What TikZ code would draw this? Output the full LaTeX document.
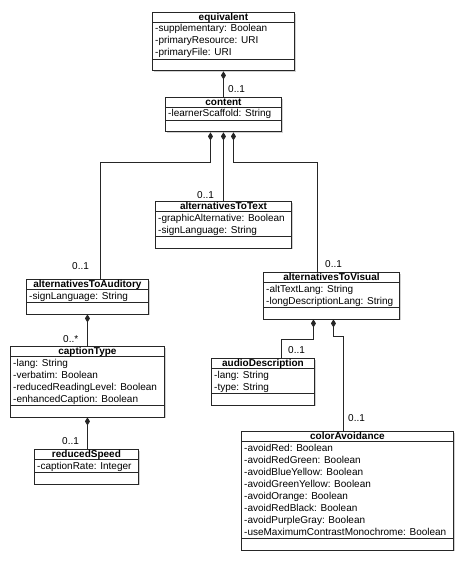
\documentclass[tikz,border=0pt]{standalone}
\usepackage{fontspec}
\setmainfont{Liberation Sans}
\usetikzlibrary{calc,shadows,arrows.meta}
\tikzset{
 classbox/.style={draw=black!85, line width=0.9pt, fill=white, inner sep=0pt, anchor=north west,
   drop shadow={shadow xshift=1.5pt, shadow yshift=-1.5pt, opacity=0.3, fill=black!60}},
 titletext/.style={font=\fontsize{10}{12}\selectfont\bfseries, inner sep=0pt, anchor=base},
 attrtext/.style={font=\fontsize{10}{12}\selectfont, inner sep=0pt, anchor=base west},
 sepline/.style={draw=black!85, line width=0.8pt},
 comp/.style={draw=black!85, line width=0.8pt, {Diamond[length=8pt,width=5pt]}-},
 mult/.style={font=\fontsize{10}{12}\selectfont, inner sep=0pt, anchor=base west},
}
\newcommand{\umlbox}[7]{%
 \pgfmathsetmacro{\attrh}{12*#5+1}%
 \pgfmathsetmacro{\boxh}{10.5+\attrh+11}%
 \node[classbox, minimum width=#4pt, minimum height=\boxh pt] (#1) at (#2,#3) {};
 \node[titletext] (#1-title) at ($(#1.north)+(0,8.5)$) {#6};
 \draw[sepline] ($(#1.north west)+(0,10.5)$) -- ($(#1.north east)+(0,10.5)$);
 \draw[sepline] ($(#1.north west)+(0,10.5+\attrh)$) -- ($(#1.north east)+(0,10.5+\attrh)$);
 \foreach \txt [count=\i] in {#7} {
   \node[attrtext] (#1-a\i) at ($(#1.north west)+(3,10.5+12*\i-2.5)$) {\txt};
 }
}
\begin{document}
\begin{tikzpicture}[x=1pt,y=-1pt]
\useasboundingbox (0,0) rectangle (467,561);

\umlbox{eq}{152}{12}{142}{3}{equivalent}{-supplementary: Boolean,-primaryResource: URI,-primaryFile: URI}
\umlbox{content}{165}{97}{116}{1}{content}{-learnerScaffold: String}
\umlbox{att}{155}{201}{136}{2}{alternativesToText}{-graphicAlternative: Boolean,-signLanguage: String}
\umlbox{aud}{26}{279}{122}{1}{alternativesToAuditory}{-signLanguage: String}
\umlbox{cap}{10}{346}{154}{4}{captionType}{-lang: String,-verbatim: Boolean,-reducedReadingLevel: Boolean,-enhancedCaption: Boolean}
\umlbox{rs}{34}{449}{104}{1}{reducedSpeed}{-captionRate: Integer}
\umlbox{vis}{263}{272}{136}{2}{alternativesToVisual}{-altTextLang: String,-longDescriptionLang: String}
\umlbox{ad}{211}{358}{103}{2}{audioDescription}{-lang: String,-type: String}
\umlbox{ca}{241}{431}{212}{8}{colorAvoidance}{-avoidRed: Boolean,-avoidRedGreen: Boolean,-avoidBlueYellow: Boolean,-avoidGreenYellow: Boolean,-avoidOrange: Boolean,-avoidRedBlack: Boolean,-avoidPurpleGray: Boolean,-useMaximumContrastMonochrome: Boolean}

% connectors
\draw[comp] (eq.south) -- (content.north -| eq.south);
\draw[comp] (content.south) -- (att.north -| content.south);
\draw[comp] ($(content.south)+(-13,0)$) -- ++(0,30) -| ($(aud.north)+(13,0)$);
\draw[comp] ($(content.south)+(10,0)$) -- ++(0,30) -| ($(vis.north)+(-14,0)$);
\draw[comp] (aud.south) -- (cap.north -| aud.south);
\draw[comp] (cap.south) -- (rs.north -| cap.south);
\draw[comp] ($(vis.south)+(-18,0)$) -- ++(0,20) -| ($(ad.north)+(18.5,0)$);
\draw[comp] ($(vis.south)+(2,0)$) -- ++(0,17) -| ($(ca.north)+(-4,0)$);

% multiplicities
\node[mult] (m1) at (228,93) {0..1};
\node[mult] (m2) at (197,198) {0..1};
\node[mult] (m3) at (72,269) {0..1};
\node[mult] (m4) at (325,267) {0..1};
\node[mult] (m5) at (63,342) {0..*};
\node[mult] (m6) at (62,444) {0..1};
\node[mult] (m7) at (288,353) {0..1};
\node[mult] (m8) at (348,421) {0..1};
\end{tikzpicture}
\end{document}
